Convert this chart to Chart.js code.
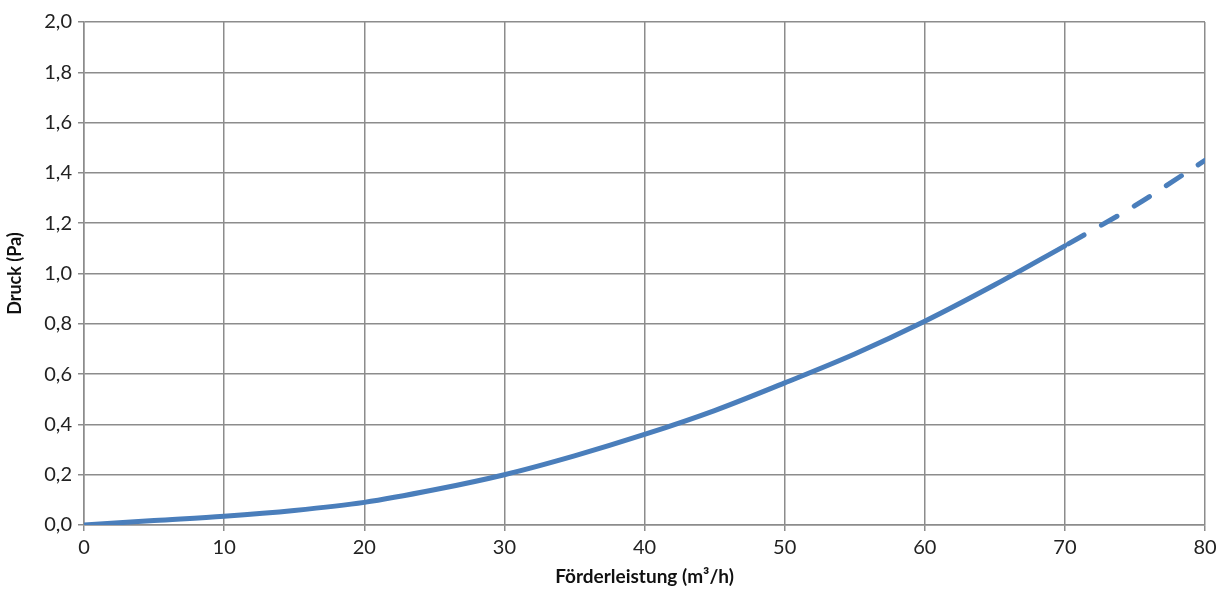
<!DOCTYPE html>
<html>
<head>
<meta charset="utf-8">
<script src="https://cdn.jsdelivr.net/npm/chart.js@4"></script>
<style>
    html, body { margin: 0; padding: 0; background: #fff; }
    #wrap { width: 1232px; height: 592px; position: relative; }
</style>
</head>
<body>
<div id="wrap"><canvas id="chart"></canvas></div>
<script>
// curve: solid part up to 70, dashed part 70..80
const solidX = [0, 5, 10, 15, 20, 25, 30, 35, 40, 45, 50, 55, 60, 65, 70];
const solidY = [0, 0.018, 0.035, 0.058, 0.09, 0.14, 0.2, 0.275, 0.36, 0.455, 0.565, 0.68, 0.81, 0.955, 1.11];
const dashX = [70, 75, 80];
const dashY = [1.11, 1.27, 1.45];

const LINE_COLOR = "#4a7ebb";
const GRID_COLOR = "#8c8c8c";
const FONT = "Lato, 'DejaVu Sans', sans-serif";

const toPoints = (xs, ys) => xs.map((x, i) => ({x: x, y: ys[i]}));

const ctx = document.getElementById("chart").getContext("2d");
new Chart(ctx, {
    type: "line",
    data: {
        datasets: [
            {
                data: toPoints(solidX, solidY),
                borderColor: LINE_COLOR,
                borderWidth: 5,
                pointRadius: 0,
                cubicInterpolationMode: "monotone",
                borderCapStyle: "round"
            },
            {
                data: toPoints(dashX, dashY),
                borderColor: LINE_COLOR,
                borderWidth: 5,
                pointRadius: 0,
                cubicInterpolationMode: "monotone",
                borderCapStyle: "round",
                borderDash: [18, 20],
                borderDashOffset: -4
            }
        ]
    },
    options: {
        responsive: true,
        maintainAspectRatio: false,
        animation: false,
        layout: {padding: {top: 22, right: 27, left: 0, bottom: 0}},
        plugins: {legend: {display: false}, tooltip: {enabled: false}},
        scales: {
            x: {
                type: "linear",
                min: 0,
                max: 80,
                ticks: {stepSize: 10, color: "#222", font: {family: FONT, size: 20}, padding: 5},
                grid: {color: GRID_COLOR, lineWidth: 1.5, tickLength: 6},
                border: {color: GRID_COLOR, width: 1.5},
                title: {display: true, text: "Förderleistung (m³/h)", color: "#111",
                        font: {family: FONT, size: 19, weight: "bold"}, padding: {top: 2}},
                afterFit: (scale) => { scale.height = 67; }
            },
            y: {
                min: 0,
                max: 2,
                ticks: {stepSize: 0.2, color: "#222", font: {family: FONT, size: 20}, padding: 6,
                        callback: (v) => v.toFixed(1).replace(".", ",")},
                grid: {color: GRID_COLOR, lineWidth: 1.5, tickLength: 6},
                border: {color: GRID_COLOR, width: 1.5},
                title: {display: true, text: "Druck (Pa)", color: "#111",
                        font: {family: FONT, size: 18, weight: "bold"}, padding: {bottom: 1}},
                afterFit: (scale) => { scale.width = 84; }
            }
        }
    }
});
</script>
</body>
</html>
